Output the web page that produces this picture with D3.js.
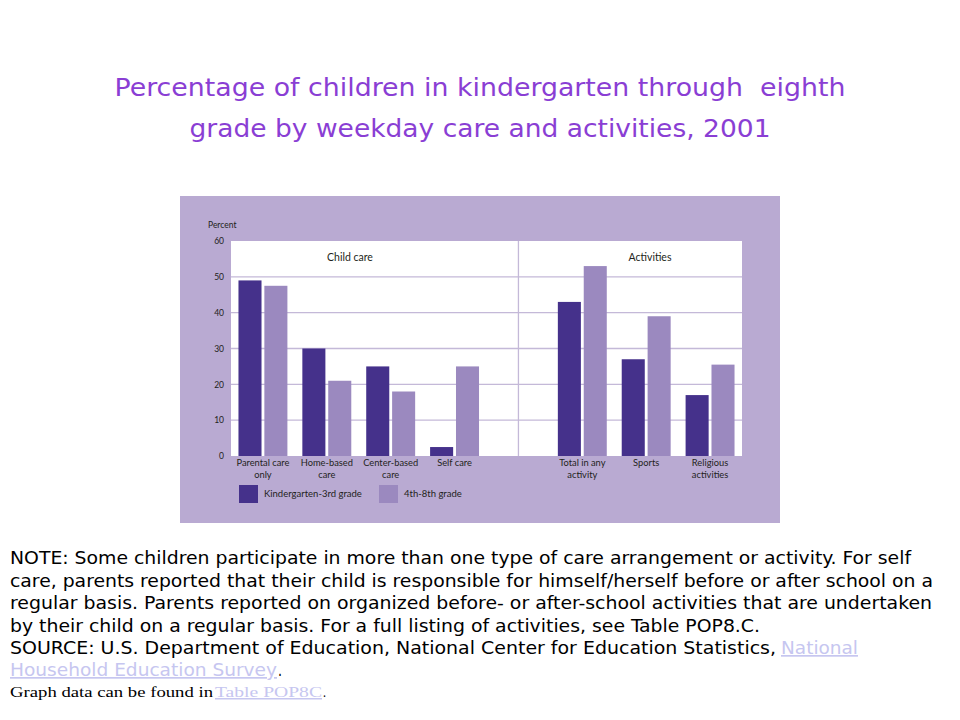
<!DOCTYPE html>
<html>
<head>
<meta charset="utf-8">
<script src="https://cdn.jsdelivr.net/npm/d3@7"></script>
<style>
  body { margin: 0; background: #fff; }
  svg { display: block; }
</style>
</head>
<body>
<svg width="960" height="720"></svg>
<script>
// Categories and series
let childCare = ["Parental care only", "Home-based care", "Center-based care", "Self care"];
let activities = ["Total in any activity", "Sports", "Religious activities"];
let categoryLines = [
    ["Parental care", "only"],
    ["Home-based", "care"],
    ["Center-based", "care"],
    ["Self care"],
    ["Total in any", "activity"],
    ["Sports"],
    ["Religious", "activities"]
];
let seriesNames = ["Kindergarten-3rd grade", "4th-8th grade"];
let k3Values = [49, 30, 25, 2.5, 43, 27, 17];
let g48Values = [47.5, 21, 18, 25, 53, 39, 25.5];
let yTicks = [0, 10, 20, 30, 40, 50, 60];

let categories = childCare.concat(activities);
let data = categories.map(function (c, i) {
    return { cat: c, lines: categoryLines[i], values: [k3Values[i], g48Values[i]] };
});

let svg = d3.select("svg");
let chartFont = "Lato, 'Noto Sans', sans-serif";

// Title
let titleLines = [
    { text: "Percentage of children in kindergarten through  eighth", y: 96, len: 731 },
    { text: "grade by weekday care and activities, 2001", y: 137, len: 581 }
];
svg.append("g").selectAll("text")
    .data(titleLines)
    .enter().append("text")
    .attr("x", 480)
    .attr("y", function (d) { return d.y; })
    .attr("text-anchor", "middle")
    .attr("font-family", "'DejaVu Sans', Verdana, sans-serif")
    .attr("font-size", 25)
    .attr("fill", "#8a3ed4")
    .attr("textLength", function (d) { return d.len; })
    .attr("lengthAdjust", "spacingAndGlyphs")
    .style("white-space", "pre")
    .text(function (d) { return d.text; });

// Purple panel behind the chart
svg.append("rect")
    .attr("x", 180).attr("y", 196)
    .attr("width", 600).attr("height", 327)
    .attr("fill", "#b9aad2");

let plot = { left: 231, right: 742, top: 241, bottom: 456 };

// a blank slot between the two groups holds the divider
let domain = childCare.concat([" "], activities);

let x0 = d3.scaleBand()
    .domain(domain)
    .range([plot.left, plot.right])
    .paddingInner(0.234)
    .paddingOuter(0.117);

let x1 = d3.scaleBand()
    .domain([0, 1])
    .range([0, x0.bandwidth()])
    .paddingInner(0.11);

let y = d3.scaleLinear()
    .domain([0, 60])
    .range([plot.bottom, plot.top]);

let z = d3.scaleOrdinal()
    .domain([0, 1])
    .range(["#45318b", "#9b89bf"]);

// white plot area
svg.append("rect")
    .attr("x", plot.left).attr("y", plot.top)
    .attr("width", plot.right - plot.left)
    .attr("height", plot.bottom - plot.top)
    .attr("fill", "#fff");

// gridlines
svg.append("g").selectAll("line")
    .data(yTicks.filter(function (t) { return t > 0 && t < 60; }))
    .enter().append("line")
    .attr("x1", plot.left).attr("x2", plot.right)
    .attr("y1", function (d) { return y(d); })
    .attr("y2", function (d) { return y(d); })
    .attr("stroke", "#c4b9d8")
    .attr("stroke-width", 1.3);

// divider between child care and activities
let divX = x0(" ") + x0.bandwidth() / 2;
svg.append("line")
    .attr("x1", divX).attr("x2", divX)
    .attr("y1", plot.top).attr("y2", plot.bottom)
    .attr("stroke", "#c4b9d8")
    .attr("stroke-width", 1.3);

// y axis labels
let yAxis = svg.append("g")
    .attr("transform", "translate(224,0)")
    .call(d3.axisLeft(y).tickValues(yTicks).tickSize(0).tickPadding(0));
yAxis.select(".domain").remove();
yAxis.selectAll("text")
    .attr("font-family", chartFont)
    .attr("font-size", 8.5)
    .attr("fill", "#231f20");

svg.append("text")
    .attr("x", 208).attr("y", 225)
    .attr("dy", "0.32em")
    .attr("font-family", chartFont)
    .attr("font-size", 8.5)
    .attr("fill", "#231f20")
    .text("Percent");

// group headers
svg.append("text")
    .attr("x", 350).attr("y", 257.5)
    .attr("dy", "0.32em")
    .attr("text-anchor", "middle")
    .attr("font-family", chartFont)
    .attr("font-size", 10.5)
    .attr("fill", "#231f20")
    .text("Child care");

svg.append("text")
    .attr("x", 650).attr("y", 257.5)
    .attr("dy", "0.32em")
    .attr("text-anchor", "middle")
    .attr("font-family", chartFont)
    .attr("font-size", 10.5)
    .attr("fill", "#231f20")
    .text("Activities");

// bars
let groups = svg.append("g")
    .selectAll("g")
    .data(data)
    .enter().append("g")
    .attr("transform", function (d) { return "translate(" + x0(d.cat) + ",0)"; });

groups.selectAll("rect")
    .data(function (d) {
        return d.values.map(function (v, i) { return { key: i, value: v }; });
    })
    .enter().append("rect")
    .attr("x", function (d) { return x1(d.key); })
    .attr("y", function (d) { return y(d.value); })
    .attr("width", x1.bandwidth())
    .attr("height", function (d) { return y(0) - y(d.value); })
    .attr("fill", function (d) { return z(d.key); });

// category labels
groups.append("text")
    .attr("x", x0.bandwidth() / 2)
    .attr("y", 463)
    .attr("text-anchor", "middle")
    .attr("font-family", chartFont)
    .attr("font-size", 9.3)
    .attr("fill", "#231f20")
    .selectAll("tspan")
    .data(function (d) { return d.lines; })
    .enter().append("tspan")
    .attr("x", x0.bandwidth() / 2)
    .attr("dy", function (d, i) { return i === 0 ? "0.32em" : "1.28em"; })
    .text(function (d) { return d; });

// legend
let legend = svg.append("g")
    .selectAll("g")
    .data(seriesNames)
    .enter().append("g")
    .attr("transform", function (d, i) { return "translate(" + (239 + i * 140) + ",485)"; });

legend.append("rect")
    .attr("width", 19)
    .attr("height", 18)
    .attr("fill", function (d, i) { return z(i); });

legend.append("text")
    .attr("x", 25)
    .attr("y", 9)
    .attr("dy", "0.32em")
    .attr("font-family", chartFont)
    .attr("font-size", 9.5)
    .attr("fill", "#231f20")
    .text(function (d) { return d; });

// Notes under the chart
let noteFont = "'DejaVu Sans Condensed', 'DejaVu Sans', sans-serif";
let noteLines = [
    { text: "NOTE: Some children participate in more than one type of care arrangement or activity. For self", x: 10, y: 564, len: 901 },
    { text: "care, parents reported that their child is responsible for himself/herself before or after school on a", x: 10, y: 587, len: 923 },
    { text: "regular basis. Parents reported on organized before- or after-school activities that are undertaken", x: 10, y: 609, len: 922 },
    { text: "by their child on a regular basis. For a full listing of activities, see Table POP8.C.", x: 10, y: 632, len: 750 },
    { text: "SOURCE: U.S. Department of Education, National Center for Education Statistics,", x: 10, y: 654, len: 766 },
    { text: "National", x: 781, y: 654, len: 77, link: true },
    { text: "Household Education Survey", x: 10, y: 676, len: 267, link: true },
    { text: ".", x: 278, y: 676, len: 4 }
];

svg.append("g").selectAll("text")
    .data(noteLines)
    .enter().append("text")
    .attr("x", function (d) { return d.x; })
    .attr("y", function (d) { return d.y; })
    .attr("font-family", noteFont)
    .attr("font-size", 17)
    .attr("fill", function (d) { return d.link ? "#c6c6f0" : "#000"; })
    .attr("text-decoration", function (d) { return d.link ? "underline" : null; })
    .attr("textLength", function (d) { return d.len; })
    .attr("lengthAdjust", "spacingAndGlyphs")
    .text(function (d) { return d.text; });

let serifLines = [
    { text: "Graph data can be found in", x: 10, len: 203 },
    { text: "Table POP8C", x: 215, len: 107, link: true },
    { text: ".", x: 323, len: 3 }
];

svg.append("g").selectAll("text")
    .data(serifLines)
    .enter().append("text")
    .attr("x", function (d) { return d.x; })
    .attr("y", 697)
    .attr("font-family", "'Liberation Serif', 'Times New Roman', serif")
    .attr("font-size", 15)
    .attr("fill", function (d) { return d.link ? "#c6c6f0" : "#000"; })
    .attr("text-decoration", function (d) { return d.link ? "underline" : null; })
    .attr("textLength", function (d) { return d.len; })
    .attr("lengthAdjust", "spacingAndGlyphs")
    .text(function (d) { return d.text; });
</script>
</body>
</html>
